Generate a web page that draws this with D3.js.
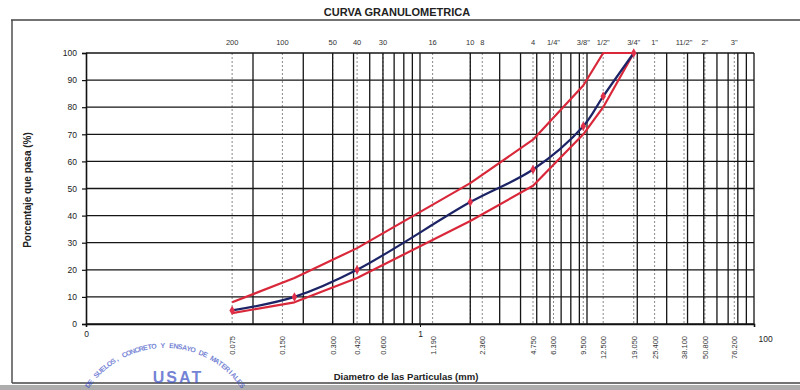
<!DOCTYPE html>
<html>
<head>
<meta charset="utf-8">
<script src="https://cdn.jsdelivr.net/npm/d3@7"></script>
<style>
  html, body { margin: 0; padding: 0; background: #ffffff; }
  svg { display: block; font-family: "Liberation Sans", Arial, sans-serif; }
</style>
</head>
<body>
<svg id="chart" width="800" height="390"></svg>
<script>
// Sieve openings (mm) used for the gradation curve and its specification band
const curveSieves = [0.075, 0.177, 0.42, 2.0, 4.75, 9.5, 12.5, 19.05];
const samplePassing = [5, 10, 20, 45, 57, 73, 84, 100];
const upperLimit = [8, 17, 28, 52, 68, 88, 100, 100];
const lowerLimit = [4, 8, 17, 38, 51, 70, 80, 100];

// Sieve designations along the top of the chart
const topSieveSizes = [0.075, 0.15, 0.3, 0.42, 0.6, 1.19, 2.0, 2.36, 4.75, 6.3, 9.5, 12.5, 19.05, 25.4, 38.1, 50.8, 76.2];
const topSieveLabels = ["200", "100", "50", "40", "30", "16", "10", "8", "4", "1/4\"", "3/8\"", "1/2\"", "3/4\"", "1\"", "11/2\"", "2\"", "3\""];

// Openings printed (rotated) under the chart, each with a dotted reference line
const bottomSieveSizes = [0.075, 0.15, 0.3, 0.42, 0.6, 1.19, 2.36, 4.75, 6.3, 9.5, 12.5, 19.05, 25.4, 38.1, 50.8, 76.2];
const bottomSieveLabels = ["0.075", "0.150", "0.300", "0.420", "0.600", "1.190", "2.360", "4.750", "6.300", "9.500", "12.500", "19.050", "25.400", "38.100", "50.800", "76.200"];

// Log-axis labels and percentage ticks
const xAxisValues = [0.01, 1, 100];
const xAxisLabels = ["0", "1", "100"];
const yTicks = [0, 10, 20, 30, 40, 50, 60, 70, 80, 90, 100];

// Laboratory stamp wording
const stampRing = "DE SUELOS, CONCRETO Y ENSAYO DE MATERIALES";
const stampCenter = "USAT";

const svg = d3.select("#chart");
const plot = { left: 86, right: 754, top: 53, bottom: 324 };

const x = d3.scaleLog().domain([0.01, 100]).range([plot.left, plot.right]);
const y = d3.scaleLinear().domain([0, 100]).range([plot.bottom, plot.top]);

// Outer frame of the sheet
const frame = svg.append("g").attr("stroke", "#444").attr("fill", "none");
frame.append("line").attr("x1", 11).attr("x2", 800).attr("y1", 20).attr("y2", 20).attr("stroke-width", 1.4);
frame.append("line").attr("x1", 12).attr("x2", 12).attr("y1", 20).attr("y2", 383).attr("stroke-width", 1.4);
frame.append("line").attr("x1", 12).attr("x2", 800).attr("y1", 383).attr("y2", 383).attr("stroke-width", 1.4);
svg.append("rect").attr("x", 0).attr("y", 385).attr("width", 800).attr("height", 5).attr("fill", "#6a6a6a").attr("opacity", 0.55);

// Title
svg.append("text")
  .attr("x", 397).attr("y", 16)
  .attr("text-anchor", "middle")
  .attr("font-size", 11).attr("font-weight", "bold").attr("fill", "#222")
  .text("CURVA GRANULOMETRICA");

// Dotted reference lines at sieve openings
const sieveLineSizes = Array.from(new Set(bottomSieveSizes.concat(topSieveSizes)));
svg.append("g")
  .selectAll("line")
  .data(sieveLineSizes)
  .join("line")
  .attr("x1", d => x(d)).attr("x2", d => x(d))
  .attr("y1", plot.top).attr("y2", plot.bottom)
  .attr("stroke", "#8a8a8a").attr("stroke-width", 1)
  .attr("stroke-dasharray", "2,2");

// Solid logarithmic grid from 0.1 mm upward
const logGrid = [];
[0.1, 1, 10].forEach(base => { for (let k = 1; k <= 9; k++) logGrid.push(+(base * k).toPrecision(3)); });
logGrid.push(100);
svg.append("g")
  .selectAll("line")
  .data(logGrid)
  .join("line")
  .attr("x1", d => x(d)).attr("x2", d => x(d))
  .attr("y1", plot.top).attr("y2", plot.bottom)
  .attr("stroke", "#151515").attr("stroke-width", 1.3);

// Horizontal grid at every 10 %
svg.append("g")
  .selectAll("line")
  .data(yTicks)
  .join("line")
  .attr("x1", plot.left).attr("x2", plot.right)
  .attr("y1", d => y(d)).attr("y2", d => y(d))
  .attr("stroke", "#151515").attr("stroke-width", 1.3);

// Y axis
const yAxis = d3.axisLeft(y).tickValues(yTicks).tickSize(4).tickPadding(5).tickFormat(d3.format("d"));
const yG = svg.append("g").attr("transform", `translate(${plot.left},0)`).call(yAxis);
yG.select(".domain").attr("stroke", "#111").attr("stroke-width", 1.6);
yG.selectAll(".tick line").attr("stroke", "#111").attr("stroke-width", 1.2);
yG.selectAll(".tick text").attr("font-size", 8.5).attr("fill", "#222");

// Bottom axis (log) with its sparse numeric labels
const xAxis = d3.axisBottom(x).tickValues(xAxisValues).tickSize(3).tickPadding(4)
  .tickFormat((d, i) => xAxisLabels[i]);
const xG = svg.append("g").attr("transform", `translate(0,${plot.bottom})`).call(xAxis);
xG.select(".domain").attr("stroke", "#111").attr("stroke-width", 1.6);
xG.selectAll(".tick line").attr("stroke", "#111");
xG.selectAll(".tick text").attr("font-size", 8.5).attr("fill", "#222");
xG.selectAll(".tick").filter(d => d === 100).select("text")
  .attr("text-anchor", "start").attr("x", 4).attr("y", 12);

// Rotated opening values under the chart
svg.append("g")
  .selectAll("text")
  .data(bottomSieveSizes)
  .join("text")
  .attr("transform", d => `translate(${x(d) + 3},${plot.bottom + 12}) rotate(-90)`)
  .attr("text-anchor", "end")
  .attr("font-size", 7.5).attr("fill", "#333")
  .text((d, i) => bottomSieveLabels[i]);

// Sieve designations above the chart
svg.append("g")
  .selectAll("text")
  .data(topSieveSizes)
  .join("text")
  .attr("x", d => x(d)).attr("y", 45)
  .attr("text-anchor", "middle")
  .attr("font-size", 7.5).attr("fill", "#333")
  .text((d, i) => topSieveLabels[i]);

// Axis titles
svg.append("text")
  .attr("transform", "translate(31,190) rotate(-90)")
  .attr("text-anchor", "middle")
  .attr("font-size", 10).attr("font-weight", "bold").attr("fill", "#222")
  .text("Porcentaje que pasa (%)");
svg.append("text")
  .attr("x", 406).attr("y", 380)
  .attr("text-anchor", "middle")
  .attr("font-size", 9.5).attr("font-weight", "bold").attr("fill", "#222")
  .text("Diametro de las Particulas (mm)");

// Specification band and gradation curve
const pts = vals => curveSieves.map((s, i) => [s, vals[i]]);
const bandLine = d3.line().x(d => x(d[0])).y(d => y(d[1]));
const smoothLine = d3.line().x(d => x(d[0])).y(d => y(d[1])).curve(d3.curveCatmullRom.alpha(0.5));

[upperLimit, lowerLimit].forEach(lim => {
  svg.append("path")
    .datum(pts(lim))
    .attr("d", bandLine)
    .attr("fill", "none")
    .attr("stroke", "#d8283a").attr("stroke-width", 2.2)
    .attr("stroke-linejoin", "round");
});

svg.append("path")
  .datum(pts(samplePassing))
  .attr("d", smoothLine)
  .attr("fill", "none")
  .attr("stroke", "#1d2466").attr("stroke-width", 2.2);

svg.append("g")
  .selectAll("path")
  .data(pts(samplePassing))
  .join("path")
  .attr("transform", d => `translate(${x(d[0])},${y(d[1])})`)
  .attr("d", d3.symbol().type(d3.symbolDiamond).size(26))
  .attr("fill", "#e0304a");

// Laboratory stamp: ring lettering placed glyph by glyph along an arc
const stamp = svg.append("g").attr("opacity", 0.7).attr("fill", "#3a4fc4").attr("font-weight", "bold");
const ring = { cx: 165, cy: 440, r: 92, from: -56, to: 56 };
const chars = Array.from(stampRing);
const step = (ring.to - ring.from) / chars.length;
stamp.selectAll("text.ring")
  .data(chars)
  .join("text")
  .attr("class", "ring")
  .attr("text-anchor", "middle")
  .attr("font-size", 7)
  .attr("transform", (c, i) => {
    const a = ring.from + (i + 0.5) * step;
    const rad = a * Math.PI / 180;
    return `translate(${ring.cx + ring.r * Math.sin(rad)},${ring.cy - ring.r * Math.cos(rad)}) rotate(${a})`;
  })
  .text(c => c);
stamp.append("text")
  .attr("x", 178).attr("y", 383)
  .attr("text-anchor", "middle")
  .attr("font-size", 16)
  .attr("letter-spacing", 2)
  .text(stampCenter);
</script>
</body>
</html>
